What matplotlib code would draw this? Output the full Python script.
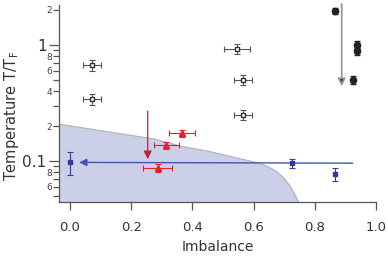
import numpy as np
import matplotlib.pyplot as plt
from matplotlib.ticker import FixedLocator, FixedFormatter

# open squares (black)
open_x = [0.072, 0.072, 0.546, 0.566, 0.566]
open_y = [0.67, 0.34, 0.92, 0.50, 0.25]
open_xerr = [0.03, 0.03, 0.043, 0.03, 0.03]
open_yerr = [0.07, 0.035, 0.09, 0.05, 0.025]

# filled circles (black)
circ_x = [0.865, 0.937, 0.937, 0.924]
circ_y = [1.96, 1.0, 0.88, 0.50]
circ_yerr = [0.12, 0.07, 0.06, 0.035]

# red triangles
tri_x = [0.367, 0.315, 0.286]
tri_y = [0.174, 0.137, 0.087]
tri_xerr = [0.042, 0.04, 0.047]
tri_yerr = [0.013, 0.01, 0.007]

# blue squares
blue_x = [0.0, 0.725, 0.865]
blue_y = [0.098, 0.096, 0.077]
blue_yerr = [0.022, 0.008, 0.01]

# phase boundary (shaded region)
bound_x = [-0.036, 0.276, 0.358, 0.45, 0.618, 0.645, 0.673, 0.695, 0.715, 0.732, 0.748]
bound_y = [0.208, 0.155, 0.135, 0.122, 0.096, 0.090, 0.082, 0.073, 0.063, 0.053, 0.0435]

fig = plt.figure(figsize=(3.88, 2.56), dpi=100)
ax = fig.add_axes([0.152, 0.211, 0.817, 0.769])
ax.set_yscale('log')
ax.set_xlim(-0.036, 1.0)
ax.set_ylim(0.0445, 2.2)

ax.fill_between(bound_x, 0.01, bound_y, color='#cbcfe7', zorder=1)
ax.plot(bound_x, bound_y, color='#b4b4bc', lw=0.8, zorder=1)

ax.errorbar(open_x, open_y, xerr=open_xerr, yerr=open_yerr, fmt='s', ms=3.5,
            mfc='white', mec='#333333', ecolor='#555555', elinewidth=0.8,
            capsize=2, capthick=0.8, zorder=4)
ax.errorbar(circ_x, circ_y, yerr=circ_yerr, fmt='o', ms=4.5, color='#222222',
            elinewidth=1.2, capsize=2, zorder=4)
ax.errorbar(tri_x, tri_y, xerr=tri_xerr, yerr=tri_yerr, fmt='^', ms=5,
            color='#e8202a', elinewidth=0.8, capsize=2, capthick=0.8, zorder=4)
ax.errorbar(blue_x, blue_y, yerr=blue_yerr, fmt='s', ms=3.5, color='#3a3a96',
            elinewidth=0.8, capsize=2, capthick=0.8, zorder=4)

# arrows
ax.annotate('', xy=(0.888, 0.44), xytext=(0.888, 2.25),
            arrowprops=dict(arrowstyle='-|>', ec='#9a9a9a', fc='#333333', lw=1.3,
                            mutation_scale=11, shrinkA=0, shrinkB=0), zorder=3)
ax.annotate('', xy=(0.254, 0.104), xytext=(0.254, 0.27),
            arrowprops=dict(arrowstyle='-|>', color='#b8283a', lw=0.9,
                            mutation_scale=12, shrinkA=0, shrinkB=0), zorder=3)
ax.annotate('', xy=(0.03, 0.0975), xytext=(0.924, 0.096),
            arrowprops=dict(arrowstyle='-|>', color='#4254b4', lw=1.0,
                            mutation_scale=11, shrinkA=0, shrinkB=0), zorder=3)

# axes styling
for s in ['top', 'right']:
    ax.spines[s].set_visible(False)
for s in ['left', 'bottom']:
    ax.spines[s].set_color('#555555')
    ax.spines[s].set_linewidth(0.9)

ax.set_xticks([0.0, 0.2, 0.4, 0.6, 0.8, 1.0])
ax.set_xticklabels(['0.0', '0.2', '0.4', '0.6', '0.8', '1.0'])
ax.tick_params(axis='x', length=6, width=0.9, color='#555555', labelsize=9.5,
               labelcolor='#333333', pad=8)

ax.yaxis.set_major_locator(FixedLocator([0.1, 1.0]))
ax.yaxis.set_major_formatter(FixedFormatter(['0.1', '1']))
minor = [0.05, 0.06, 0.07, 0.08, 0.09, 0.2, 0.3, 0.4, 0.5, 0.6, 0.7, 0.8, 0.9, 2.0]
minor_lab = ['', '6', '', '8', '', '2', '', '4', '', '6', '', '8', '', '2']
ax.yaxis.set_minor_locator(FixedLocator(minor))
ax.yaxis.set_minor_formatter(FixedFormatter(minor_lab))
ax.tick_params(axis='y', which='major', length=7, width=0.9, color='#555555',
               labelsize=11, labelcolor='#333333', pad=2)
ax.tick_params(axis='y', which='minor', length=4, width=0.9, color='#555555',
               labelsize=6.5, labelcolor='#444444', pad=1)

ax.set_xlabel('Imbalance', fontsize=10, color='#333333', labelpad=4)
ax.set_ylabel('Temperature T/T$_\\mathregular{F}$', fontsize=10.5, color='#333333')
ax.yaxis.set_label_coords(-0.12, 0.44)

fig.savefig('out.png', dpi=100)
